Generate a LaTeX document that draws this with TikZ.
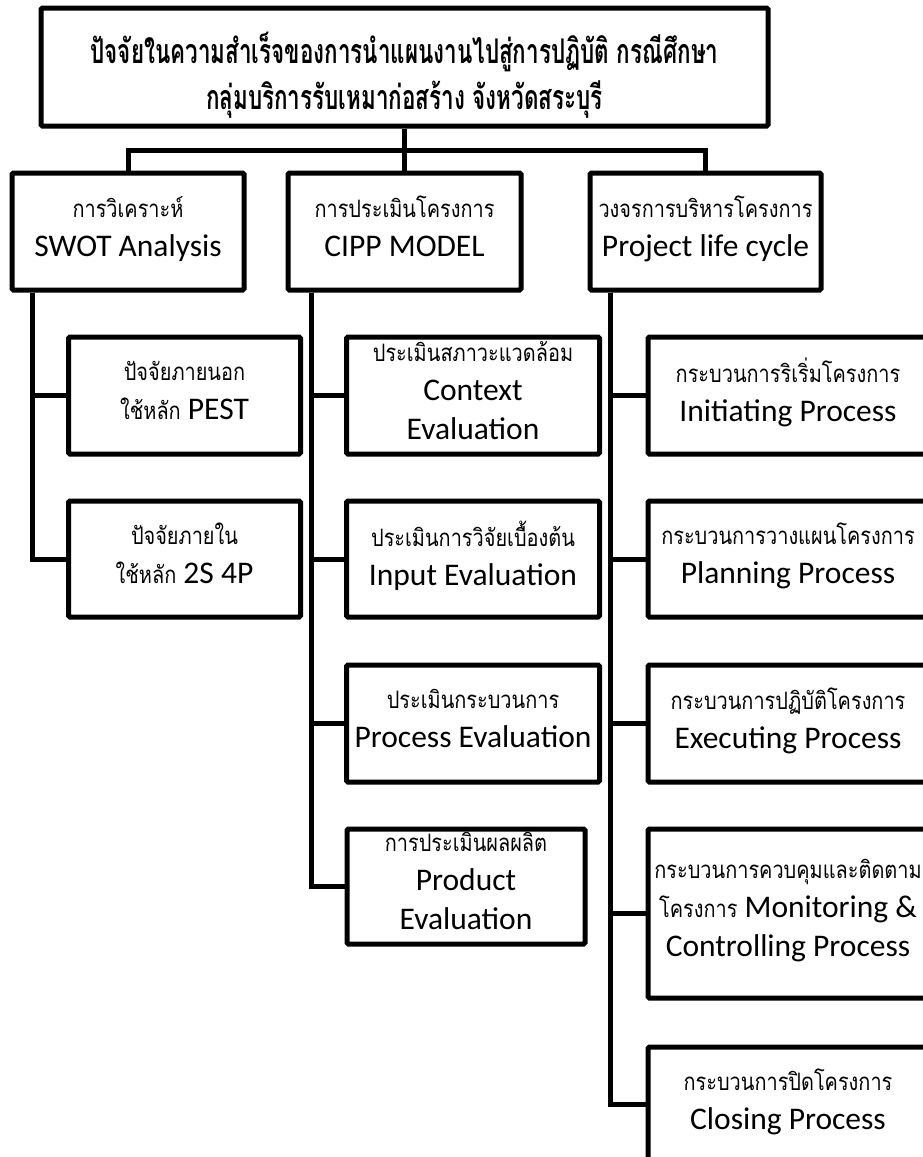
\documentclass[tikz,border=0pt]{standalone}
\usepackage{fontspec}
\setmainfont{Carlito}
\newfontfamily\thaifont[Script=Thai, FakeStretch=0.83]{Loma}
\newfontfamily\thaititle[Script=Thai, FakeStretch=0.66]{Loma}
\usepackage{tikz}

\newcommand{\strt}{\rule[-11pt]{0pt}{28pt}}
\newcommand{\thai}[1]{{\thaifont\fontsize{24}{39}\selectfont #1}}

\begin{document}
\begin{tikzpicture}[x=1pt, y=-1pt, line width=5pt,
    box/.style={draw, line width=5pt, rounded corners=1.5pt, align=center,
        inner sep=0pt, font=\fontsize{31.5}{39}\selectfont},
    topbox/.style={box, minimum width=232pt, minimum height=117pt},
    subbox/.style={box, minimum height=117pt}]
    \useasboundingbox (0,0) rectangle (923,1157);

    \node[box, minimum width=727pt, minimum height=118pt,
        font=\thaititle\bfseries\fontsize{34}{46}\selectfont] (title) at (404.5,67)
        {\rule{0pt}{47pt}ปัจจัยในความสำเร็จของการนำแผนงานไปสู่การปฏิบัติ กรณีศึกษา\\กลุ่มบริการรับเหมาก่อสร้าง จังหวัดสระบุรี};

    \node[topbox] (swot) at (128,231.5) {\strt\thai{การวิเคราะห์}\\\strt SWOT Analysis};
    \node[topbox, minimum width=233pt] (cipp) at (404.5,231.5) {\strt\thai{การประเมินโครงการ}\\\strt CIPP MODEL};
    \node[topbox, minimum width=231pt] (plc) at (705.5,231.5) {\strt\thai{วงจรการบริหารโครงการ}\\\strt Project life cycle};

    % SWOT
    \node[subbox, minimum width=232pt] (outer) at (184.5,395.5) {\strt\thai{ปัจจัยภายนอก}\\\strt\thai{ใช้หลัก} PEST};
    \node[subbox, minimum width=232pt, minimum height=116pt] (inner) at (184.5,559) {\strt\thai{ปัจจัยภายใน}\\\strt\thai{ใช้หลัก} 2S 4P};

    % CIPP
    \node[subbox, minimum width=253pt] (context) at (473,395.5) {\strt\thai{ประเมินสภาวะแวดล้อม}\\\strt Context\\\strt Evaluation};
    \node[subbox, minimum width=253pt, minimum height=116pt] (input) at (473,559) {\strt\thai{ประเมินการวิจัยเบื้องต้น}\\\strt Input Evaluation};
    \node[subbox, minimum width=253pt] (process) at (473,723.5) {\strt\thai{ประเมินกระบวนการ}\\\strt Process Evaluation};
    \node[subbox, minimum width=238pt, minimum height=115pt] (product) at (466,886.5) {\strt\thai{การประเมินผลผลิต}\\\strt Product\\\strt Evaluation};

    % Project life cycle
    \node[subbox, minimum width=280pt] (initiating) at (788,395.5) {\strt\thai{กระบวนการริเริ่มโครงการ}\\\strt Initiating Process};
    \node[subbox, minimum width=280pt, minimum height=116pt] (planning) at (788,559) {\strt\thai{กระบวนการวางแผนโครงการ}\\\strt Planning Process};
    \node[subbox, minimum width=280pt] (executing) at (788,723.5) {\strt\thai{กระบวนการปฏิบัติโครงการ}\\\strt Executing Process};
    \node[subbox, minimum width=280pt, minimum height=169pt] (monitoring) at (788,913.5) {\strt\thai{กระบวนการควบคุมและติดตาม}\\\strt\thai{โครงการ} Monitoring \&\\\strt Controlling Process};
    \node[subbox, minimum width=280pt, minimum height=115pt] (closing) at (788,1104.5) {\strt\thai{กระบวนการปิดโครงการ}\\\strt Closing Process};

    % connectors
    \coordinate (bar) at (404.5,150);
    \draw (title) -- (cipp);
    \draw (swot.north) |- (bar) -| (plc.north);
    \foreach \c in {outer, inner}
        \draw ([xshift=23pt]swot.south west) |- (\c.west);
    \foreach \c in {context, input, process, product}
        \draw ([xshift=26pt]cipp.south west) |- (\c.west);
    \foreach \c in {initiating, planning, executing, monitoring, closing}
        \draw ([xshift=23pt]plc.south west) |- (\c.west);
\end{tikzpicture}
\end{document}
